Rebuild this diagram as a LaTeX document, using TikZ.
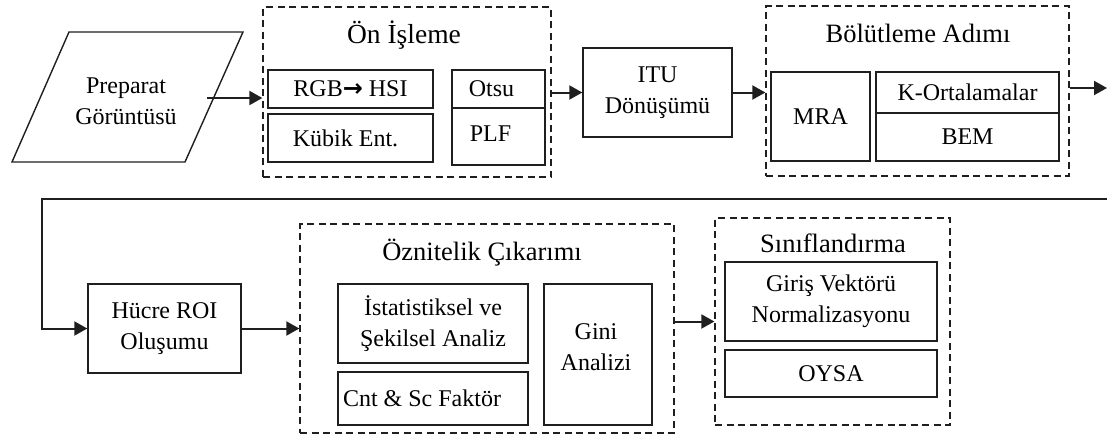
\documentclass[tikz,border=0pt]{standalone}
\usepackage{fontspec}
\setmainfont{Liberation Serif}
\newfontfamily\symfont{DejaVu Sans}
\usetikzlibrary{arrows.meta}
\begin{document}
\begin{tikzpicture}[x=1pt,y=-1pt,
  ln/.style={draw=black!88, line width=1.4pt},
  box/.style={draw=black!88, line width=1.4pt, inner sep=0pt, align=center,
    font=\fontsize{24}{31}\selectfont},
  grp/.style={draw=black!88, line width=1.3pt, dash pattern=on 7pt off 4.5pt, inner sep=0pt},
  ttl/.style={font=\fontsize{26.5}{32}\selectfont, anchor=base, inner sep=0pt},
  txt/.style={font=\fontsize{24}{31}\selectfont, align=center, inner sep=0pt},
  arr/.style={draw=black!88, line width=2pt, -{Triangle[length=13pt,width=14pt]}}]
\useasboundingbox (0,0) rectangle (1107,434);
% input parallelogram
\draw[ln] (12,162) -- (69,32) -- (243,32) -- (185,162) -- cycle;
\node[txt] (prep) at (126,101) {Preparat\\Görüntüsü};
\coordinate (prepout) at (207,98);
% groups
\node[grp, minimum width=288pt, minimum height=170pt] (on) at (407,92) {};
\node[grp, minimum width=303pt, minimum height=170pt] (bol) at (917.5,91) {};
\node[grp, minimum width=374pt, minimum height=209pt] (ozn) at (487,328.5) {};
\node[grp, minimum width=235pt, minimum height=207pt] (sin) at (832.5,321.5) {};
% titles
\node[ttl, font=\fontsize{27.5}{32}\selectfont] (onT) at (404,43) {Ön İşleme};
\node[ttl] (bolT) at (918,42) {Bölütleme Adımı};
\node[ttl] (oznT) at (482,260) {Öznitelik Çıkarımı};
\node[ttl] (sinT) at (833,252) {Sınıflandırma};
% Ön İşleme boxes
\node[box, minimum width=165pt, minimum height=38pt] (rgb) at (350.5,89) {RGB{\symfont\bfseries →} HSI};
\node[box, minimum width=165pt, minimum height=48pt] (kub) at (350.5,138) {Kübik Ent.\hspace*{10pt}};
\node[box, minimum width=93pt, minimum height=38pt] (otsu) at (498.5,89) {Otsu\hspace*{14pt}};
\node[box, minimum width=93pt, minimum height=57pt] (plf) at (498.5,136.5) {\raisebox{5pt}{PLF}\hspace*{16pt}};
% ITU
\node[box, minimum width=149pt, minimum height=89pt] (itu) at (657.5,92.5) {ITU\\Dönüşümü};
% Bölütleme boxes
\node[box, minimum width=99pt, minimum height=89pt] (mra) at (820.5,116.5) {MRA};
\node[box, minimum width=183pt, minimum height=41pt] (kort) at (967.5,92.5) {K-Ortalamalar};
\node[box, minimum width=183pt, minimum height=48pt] (bem) at (967.5,137) {BEM};
% second row
\node[box, minimum width=153pt, minimum height=89pt] (hucre) at (164.5,328.5) {Hücre ROI\\Oluşumu};
\node[box, minimum width=190pt, minimum height=79pt] (ist) at (433,323.5) {İstatistiksel ve\\Şekilsel Analiz};
\node[box, minimum width=190pt, minimum height=53pt] (cnt) at (433,398.5) {Cnt \& Sc Faktör\hspace*{22pt}};
\node[box, minimum width=108pt, minimum height=141pt] (gini) at (598,354.5) {};
\node[txt] (giniT) at (596,347) {Gini\\Analizi};
\node[box, minimum width=212pt, minimum height=79pt] (giris) at (831,301.5) {Giriş Vektörü\\Normalizasyonu};
\node[box, minimum width=212pt, minimum height=47pt] (oysa) at (831,373.5) {OYSA};
% connectors
\coordinate (outr) at (1107,88);
\coordinate (retr) at (1107,199);
\coordinate (turn) at (42,199);
\draw[arr] (prepout) -- (on.west |- prepout);
\draw[arr] (on.east |- itu.west) -- (itu.west);
\draw[arr] (itu.east) -- (bol.west |- itu.east);
\draw[arr] (bol.east |- outr) -- (outr);
\draw[arr] (retr) -- (turn) |- (hucre.west);
\draw[arr] (hucre.east) -- (ozn.west |- hucre.east);
\draw[arr] (ozn.east |- sin.west) -- (sin.west);
\end{tikzpicture}
\end{document}
